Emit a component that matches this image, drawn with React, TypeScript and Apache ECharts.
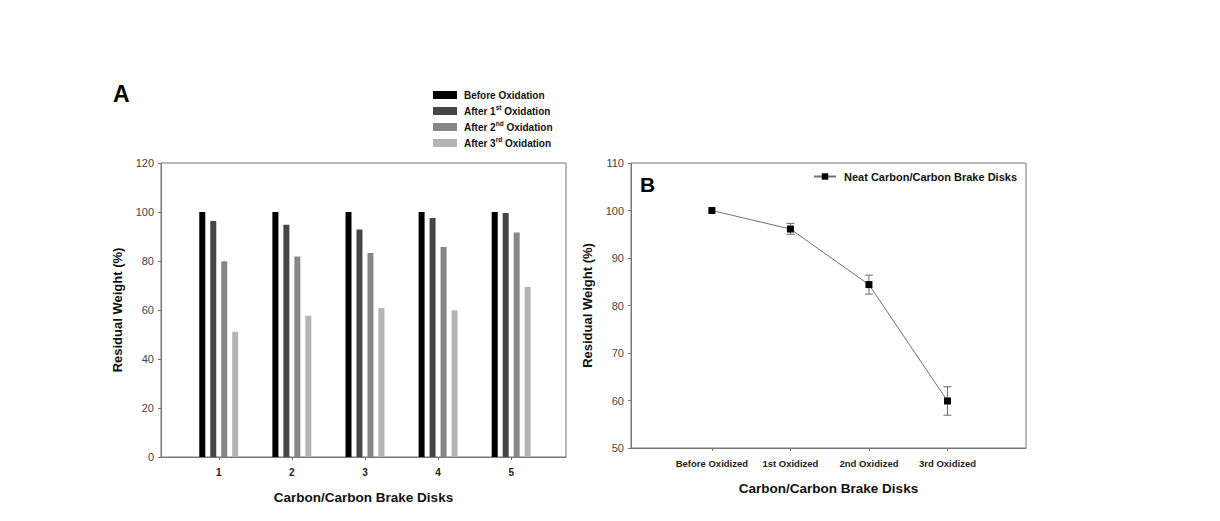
import React, { useEffect, useRef } from "react";
import * as echarts from "echarts";

// ---- Data: panel A (bar chart) ----
const barCategories = ["1", "2", "3", "4", "5"];
const barSeriesNames = [
  "Before Oxidation",
  "After 1st Oxidation",
  "After 2nd Oxidation",
  "After 3rd Oxidation",
];
const beforeOxidation = [100, 100, 100, 100, 100];
const after1st = [96.3, 94.8, 92.9, 97.6, 99.6];
const after2nd = [79.9, 81.8, 83.3, 85.7, 91.6];
const after3rd = [51.1, 57.7, 60.8, 59.9, 69.4];
const barColors = ["#000000", "#464646", "#878787", "#b4b4b4"];

// ---- Data: panel B (line chart with error bars) ----
const lineCategories = ["Before Oxidized", "1st Oxidized", "2nd Oxidized", "3rd Oxidized"];
const lineSeriesName = "Neat Carbon/Carbon Brake Disks";
const neatValues = [100, 96.1, 84.4, 59.9];
const errLow = [100, 95.0, 82.4, 56.9];
const errHigh = [100, 97.3, 86.4, 62.9];

const FONT = "'Liberation Sans', Arial, Helvetica, sans-serif";

export default function App() {
  const ref = useRef<HTMLDivElement>(null);

  useEffect(() => {
    if (!ref.current) return;
    const chart = echarts.init(ref.current, undefined, { renderer: "svg" });

    const barGroups = [beforeOxidation, after1st, after2nd, after3rd];
    const barPos = barCategories.map((_, i) => i + 1);
    const linePos = lineCategories.map((_, i) => i);

    const axisLineStyle = { color: "#777", width: 1 };

    const option: any = {
      animation: false,
      textStyle: { fontFamily: FONT },
      grid: [
        {
          left: 161, top: 163, width: 405, height: 294,
          show: true, borderColor: "#777", borderWidth: 1,
        },
        {
          left: 631, top: 163, width: 395, height: 285,
          show: true, borderColor: "#777", borderWidth: 1,
        },
      ],
      legend: [
        {
          orient: "vertical",
          left: 433,
          top: 88,
          padding: 0,
          itemWidth: 24,
          itemHeight: 8,
          itemGap: 2,
          icon: "rect",
          data: barSeriesNames,
          formatter: (name: string) =>
            name.replace(/(\d)(st|nd|rd)\b/, "$1{s|$2}"),
          textStyle: {
            fontFamily: FONT,
            fontSize: 10,
            fontWeight: "bold",
            color: "#111",
            lineHeight: 14,
            padding: [0, 0, 0, 2],
            rich: {
              s: {
                fontFamily: FONT,
                fontSize: 6.5,
                fontWeight: "bold",
                color: "#111",
                lineHeight: 7,
                verticalAlign: "top",
              },
            },
          },
        },
        {
          left: 813,
          top: 171,
          padding: 0,
          itemWidth: 22,
          itemHeight: 8,
          itemGap: 0,
          data: [lineSeriesName],
          textStyle: {
            fontFamily: FONT,
            fontSize: 11,
            fontWeight: "bold",
            color: "#111",
            padding: [0, 0, 0, 3],
          },
        },
      ],
      xAxis: [
        {
          type: "value",
          gridIndex: 0,
          min: 0.21,
          max: 5.75,
          name: "Carbon/Carbon Brake Disks",
          nameLocation: "middle",
          nameGap: 33,
          nameTextStyle: { fontFamily: FONT, fontSize: 13.5, fontWeight: "bold", color: "#111" },
          axisLine: { onZero: false, lineStyle: axisLineStyle },
          axisTick: { show: true, length: 3, customValues: barPos, lineStyle: axisLineStyle },
          axisLabel: {
            customValues: barPos,
            formatter: (v: number) => barCategories[Math.round(v) - 1] ?? "",
            fontFamily: FONT,
            fontSize: 10,
            fontWeight: "bold",
            color: "#222",
            margin: 10,
          },
          splitLine: { show: false },
        },
        {
          type: "value",
          gridIndex: 1,
          min: -1.03,
          max: 4,
          name: "Carbon/Carbon Brake Disks",
          nameLocation: "middle",
          nameGap: 33,
          nameTextStyle: { fontFamily: FONT, fontSize: 13.5, fontWeight: "bold", color: "#111" },
          axisLine: { onZero: false, lineStyle: axisLineStyle },
          axisTick: { show: true, length: 3, customValues: linePos, lineStyle: axisLineStyle },
          axisLabel: {
            customValues: linePos,
            formatter: (v: number) => lineCategories[Math.round(v)] ?? "",
            fontFamily: FONT,
            fontSize: 9.5,
            fontWeight: "bold",
            color: "#222",
            margin: 10,
          },
          splitLine: { show: false },
        },
      ],
      yAxis: [
        {
          type: "value",
          gridIndex: 0,
          min: 0,
          max: 120,
          interval: 20,
          name: "Residual Weight (%)",
          nameLocation: "middle",
          nameGap: 37,
          nameTextStyle: { fontFamily: FONT, fontSize: 13, fontWeight: "bold", color: "#111" },
          axisLine: { show: true, onZero: false, lineStyle: axisLineStyle },
          axisTick: { show: true, length: 3, lineStyle: axisLineStyle },
          axisLabel: { fontFamily: FONT, fontSize: 11, color: "#444", margin: 7 },
          splitLine: { show: false },
        },
        {
          type: "value",
          gridIndex: 1,
          min: 50,
          max: 110,
          interval: 10,
          name: "Residual Weight (%)",
          nameLocation: "middle",
          nameGap: 37,
          nameTextStyle: { fontFamily: FONT, fontSize: 13, fontWeight: "bold", color: "#111" },
          axisLine: { show: true, onZero: false, lineStyle: axisLineStyle },
          axisTick: { show: true, length: 3, lineStyle: axisLineStyle },
          axisLabel: { fontFamily: FONT, fontSize: 11, color: "#444", margin: 7 },
          splitLine: { show: false },
        },
      ],
      series: [
        ...barGroups.map((vals, si) => ({
          type: "bar",
          name: barSeriesNames[si],
          xAxisIndex: 0,
          yAxisIndex: 0,
          barWidth: 6,
          barGap: "83%",
          itemStyle: { color: barColors[si] },
          data: vals.map((v, i) => [barPos[i], v]),
        })),
        {
          type: "custom",
          name: "error",
          xAxisIndex: 1,
          yAxisIndex: 1,
          z: 1,
          data: linePos.map((p, i) => [p, errLow[i], errHigh[i]]),
          renderItem: (params: any, api: any) => {
            const x = api.value(0);
            const lo = api.value(1);
            const hi = api.value(2);
            if (hi - lo <= 0) return { type: "group", children: [] };
            const top = api.coord([x, hi]);
            const bot = api.coord([x, lo]);
            const hw = 4;
            const st = { stroke: "#6a6a6a", lineWidth: 1 };
            return {
              type: "group",
              children: [
                { type: "line", shape: { x1: top[0], y1: top[1], x2: bot[0], y2: bot[1] }, style: st },
                { type: "line", shape: { x1: top[0] - hw, y1: top[1], x2: top[0] + hw, y2: top[1] }, style: st },
                { type: "line", shape: { x1: bot[0] - hw, y1: bot[1], x2: bot[0] + hw, y2: bot[1] }, style: st },
              ],
            };
          },
        },
        {
          type: "line",
          name: lineSeriesName,
          xAxisIndex: 1,
          yAxisIndex: 1,
          z: 3,
          symbol: "rect",
          symbolSize: 7,
          lineStyle: { color: "#707070", width: 1 },
          itemStyle: { color: "#000" },
          data: linePos.map((p, i) => [p, neatValues[i]]),
        },
      ],
      graphic: [
        {
          type: "text",
          left: 113,
          top: 82,
          style: { text: "A", font: `bold 23px ${FONT}`, fill: "#000" },
        },
        {
          type: "text",
          left: 640,
          top: 174,
          style: { text: "B", font: `bold 21px ${FONT}`, fill: "#000" },
        },
      ],
    };

    chart.setOption(option);
    return () => chart.dispose();
  }, []);

  return (
    <div
      ref={ref}
      style={{ position: "fixed", left: 0, top: 0, width: 1220, height: 521, background: "#fff" }}
    />
  );
}
